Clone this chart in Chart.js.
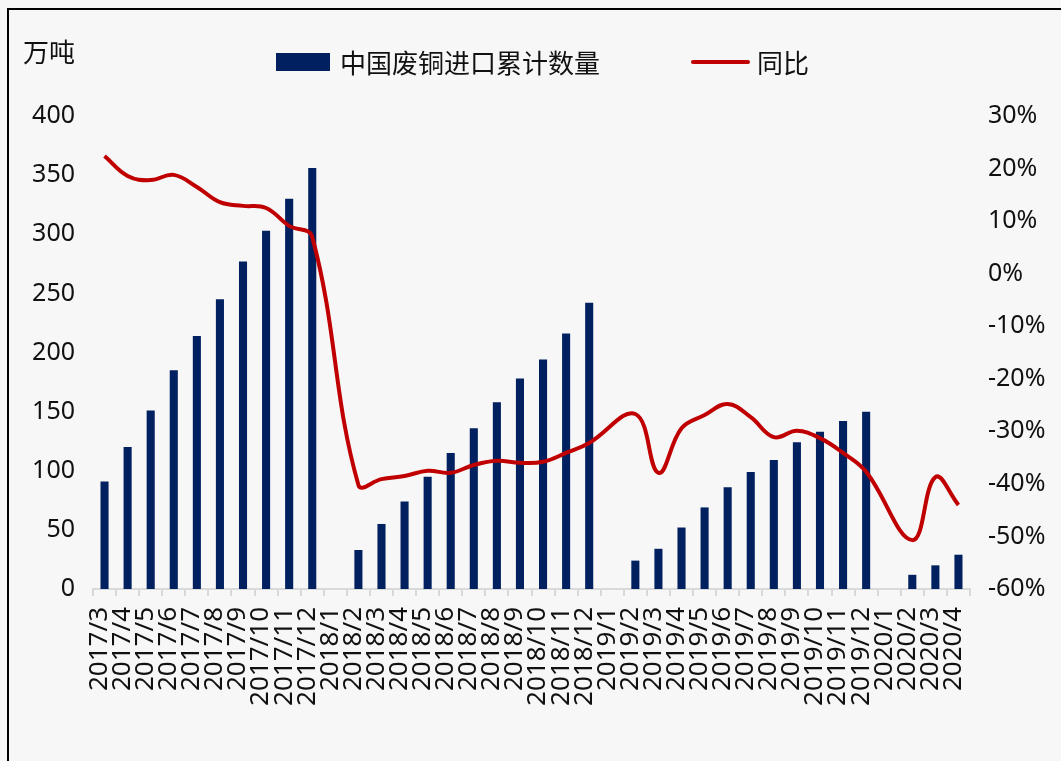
<!DOCTYPE html>
<html>
<head>
<meta charset="utf-8">
<script src="https://cdn.jsdelivr.net/npm/chart.js@4/dist/chart.umd.min.js"></script>
<style>
  html, body { margin: 0; padding: 0; background: #f7f7f7; }
  canvas { display: block; }
</style>
</head>
<body>
<canvas id="copyChart" width="1061" height="761"></canvas>
<script>
const months = [
  "2017/3", "2017/4", "2017/5", "2017/6", "2017/7", "2017/8", "2017/9", "2017/10", "2017/11", "2017/12",
  "2018/1", "2018/2", "2018/3", "2018/4", "2018/5", "2018/6", "2018/7", "2018/8", "2018/9", "2018/10", "2018/11", "2018/12",
  "2019/1", "2019/2", "2019/3", "2019/4", "2019/5", "2019/6", "2019/7", "2019/8", "2019/9", "2019/10", "2019/11", "2019/12",
  "2020/1", "2020/2", "2020/3", "2020/4",
];
// 中国废铜进口累计数量（万吨）
const importTotal = [
  91, 120, 151, 185, 214, 245, 277, 303, 330, 356,
  null, 33, 55, 74, 95, 115, 136, 158, 178, 194, 216, 242,
  null, 24, 34, 52, 69, 86, 99, 109, 124, 133, 142, 150,
  null, 12, 20, 29,
];
// 同比（%）
const yoy = [
  22.4, 18.6, 17.8, 18.8, 16.5, 13.6, 12.9, 12.5, 9.1, 7.0,
  null, -40.2, -39.1, -38.5, -37.5, -37.9, -36.4, -35.6, -36.0, -35.8, -34.1, -32.2,
  null, -26.7, -37.9, -29.4, -26.9, -24.8, -27.3, -31.1, -29.9, -31.3, -34.1, -37.7,
  null, -50.7, -38.7, -44.0,
];

const numFont = '"Noto Sans", "Noto Sans CJK SC", sans-serif';
const cjkFont = '"Noto Sans CJK SC", sans-serif';
const barColor = "#002060";
const lineColor = "#c00000";

// 背景、边框、图例和单位
const decor = {
  id: "decor",
  beforeDraw(chart) {
    const c = chart.ctx;
    c.save();
    c.fillStyle = "#f7f7f7";
    c.fillRect(0, 0, chart.width, chart.height);
    c.restore();
  },
  afterDraw(chart) {
    const c = chart.ctx;
    c.save();
    c.strokeStyle = "#000";
    c.lineWidth = 2;
    c.beginPath();
    c.moveTo(8, 761);
    c.lineTo(8, 9);
    c.lineTo(1061, 9);
    c.stroke();

    c.fillStyle = "#111";
    c.font = "26px " + cjkFont;
    c.textBaseline = "middle";
    c.textAlign = "left";
    c.fillText("万吨", 23, 52);

    c.fillStyle = barColor;
    c.fillRect(276, 53, 54, 18);
    c.fillStyle = "#111";
    c.fillText("中国废铜进口累计数量", 340, 63);

    c.strokeStyle = lineColor;
    c.lineWidth = 4;
    c.lineCap = "round";
    c.beginPath();
    c.moveTo(693, 62);
    c.lineTo(748, 62);
    c.stroke();
    c.fillText("同比", 757, 63);
    c.restore();
  },
};

new Chart(document.getElementById("copyChart"), {
  data: {
    labels: months,
    datasets: [
      {
        type: "line",
        label: "同比",
        data: yoy,
        yAxisID: "yRight",
        borderColor: lineColor,
        borderWidth: 4,
        pointRadius: 0,
        tension: 0.4,
        spanGaps: true,
        order: 0,
      },
      {
        type: "bar",
        label: "中国废铜进口累计数量",
        data: importTotal,
        yAxisID: "yLeft",
        backgroundColor: barColor,
        barPercentage: 0.35,
        categoryPercentage: 1,
        order: 1,
      },
    ],
  },
  options: {
    responsive: false,
    animation: false,
    layout: { padding: { left: 0, right: 0, top: 116, bottom: 0 } },
    plugins: { legend: { display: false }, tooltip: { enabled: false } },
    scales: {
      x: {
        offset: true,
        grid: {
          offset: true,
          drawOnChartArea: false,
          color: "#d9d9d9",
          lineWidth: 2,
          tickLength: 7,
        },
        border: { color: "#d9d9d9", width: 2 },
        ticks: {
          autoSkip: false,
          minRotation: 90,
          maxRotation: 90,
          padding: 11,
          labelOffset: -5,
          color: "#111",
          font: { family: numFont, size: 26 },
        },
        afterFit(scale) { scale.height = 172; },
      },
      yLeft: {
        position: "left",
        min: 0,
        max: 400,
        grid: { display: false, drawTicks: false },
        border: { display: false },
        ticks: {
          stepSize: 50,
          padding: 18,
          color: "#111",
          font: { family: numFont, size: 25 },
        },
        afterFit(scale) { scale.width = 93; },
      },
      yRight: {
        position: "right",
        min: -60,
        max: 30,
        grid: { display: false, drawTicks: false },
        border: { display: false },
        ticks: {
          stepSize: 10,
          padding: 18,
          color: "#111",
          font: { family: numFont, size: 25 },
          callback: (v) => v + "%",
        },
        afterFit(scale) { scale.width = 91; },
      },
    },
  },
  plugins: [decor],
});
</script>
</body>
</html>
